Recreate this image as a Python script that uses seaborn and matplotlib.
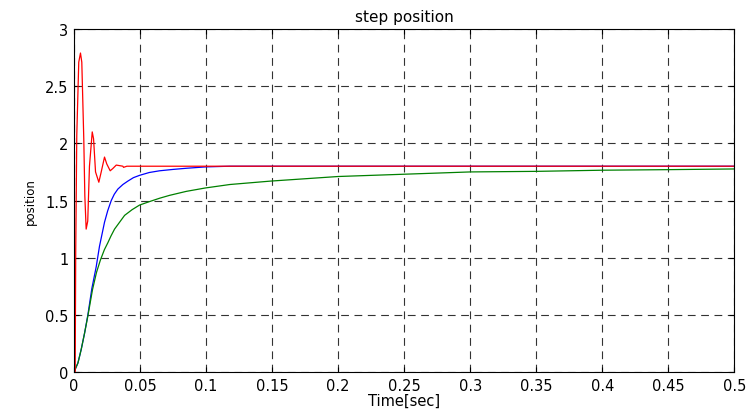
import numpy as np
import pandas as pd
import matplotlib
matplotlib.use("Agg")
import matplotlib.pyplot as plt
import seaborn as sns

# step responses (time in sec, position)
red_t = [0, 0.0009, 0.0010, 0.0013, 0.0021, 0.0036, 0.0049, 0.0059, 0.0074,
         0.0082, 0.0092, 0.0104, 0.0117, 0.0138, 0.0148, 0.0163, 0.0188,
         0.0206, 0.0231, 0.0248, 0.0274, 0.0294, 0.0320, 0.0370, 0.0375,
         0.0400, 0.0600, 0.5000]
red_y = [0, 0.0, 0.29, 1.05, 2.07, 2.71, 2.79, 2.71, 2.04, 1.54, 1.25, 1.32,
         1.80, 2.10, 2.04, 1.75, 1.66, 1.75, 1.88, 1.82, 1.76, 1.78, 1.81,
         1.80, 1.79, 1.80, 1.80, 1.80]

blue_t = [0, 0.0030, 0.0055, 0.0080, 0.0105, 0.0135, 0.0168, 0.0193, 0.0231,
          0.0255, 0.0282, 0.0305, 0.0332, 0.0370, 0.0408, 0.0450, 0.0496,
          0.0570, 0.0648, 0.0750, 0.0850, 0.0996, 0.1180, 0.1500, 0.5000]
blue_y = [0, 0.08, 0.20, 0.34, 0.50, 0.73, 0.92, 1.10, 1.31, 1.41, 1.50,
          1.555, 1.60, 1.64, 1.67, 1.70, 1.72, 1.745, 1.76, 1.772, 1.782,
          1.794, 1.80, 1.80, 1.80]

green_t = [0, 0.0030, 0.0055, 0.0080, 0.0105, 0.0140, 0.0170, 0.0200, 0.0230,
           0.0256, 0.0280, 0.0307, 0.0345, 0.0383, 0.0440, 0.0496, 0.0570,
           0.0648, 0.0723, 0.0850, 0.0996, 0.1180, 0.1490, 0.2000, 0.2500,
           0.3000, 0.3500, 0.4000, 0.4500, 0.5000]
green_y = [0, 0.08, 0.20, 0.34, 0.49, 0.72, 0.87, 0.98, 1.07, 1.13, 1.19,
           1.25, 1.31, 1.37, 1.42, 1.46, 1.49, 1.52, 1.545, 1.58, 1.61, 1.64,
           1.67, 1.71, 1.73, 1.75, 1.755, 1.765, 1.77, 1.776]

x_ticks = [0, 0.05, 0.1, 0.15, 0.2, 0.25, 0.3, 0.35, 0.4, 0.45, 0.5]
x_tick_labels = ["0", "0.05", "0.1", "0.15", "0.2", "0.25", "0.3", "0.35",
                 "0.4", "0.45", "0.5"]
y_ticks = [0, 0.5, 1, 1.5, 2, 2.5, 3]
y_tick_labels = ["0", "0.5", "1", "1.5", "2", "2.5", "3"]

df = pd.concat([
    pd.DataFrame({"t": blue_t, "pos": blue_y, "series": "blue"}),
    pd.DataFrame({"t": green_t, "pos": green_y, "series": "green"}),
    pd.DataFrame({"t": red_t, "pos": red_y, "series": "red"}),
], ignore_index=True)

sns.set_style("ticks")
plt.rcParams['font.family'] = ['DejaVu Sans']
plt.rcParams['text.color'] = 'black'
plt.rcParams['axes.labelcolor'] = 'black'

fig = plt.figure(figsize=(7.46, 4.10), dpi=100)
ax = fig.add_axes([0.0992, 0.0902, 0.8853, 0.8366])

palette = {"blue": "#0000ff", "green": "#008000", "red": "#ff0000"}
sns.lineplot(data=df, x="t", y="pos", hue="series",
             hue_order=["blue", "green", "red"], palette=palette,
             estimator=None, sort=False, legend=False, linewidth=0.9, ax=ax)

ax.set_xlim(0, 0.5)
ax.set_ylim(0, 3)
ax.set_xticks(x_ticks)
ax.set_xticklabels(x_tick_labels)
ax.set_yticks(y_ticks)
ax.set_yticklabels(y_tick_labels)

ax.grid(True, color="0.2", linestyle=(0, (7, 5)), linewidth=0.8)
ax.set_axisbelow(True)
for s in ax.spines.values():
    s.set_visible(True)
    s.set_color("black")
    s.set_linewidth(0.8)

ax.tick_params(direction="in", length=3.5, width=0.8, top=True, right=True,
               labelsize=10.5, pad=4, colors="black")

ax.set_title("step position", fontsize=11, pad=6, color="black")
ax.set_xlabel("Time[sec]", fontsize=10.5, labelpad=0, color="black")
ax.set_ylabel("position", fontsize=8.5, labelpad=6, color="black")

fig.savefig("out.png", dpi=100)
